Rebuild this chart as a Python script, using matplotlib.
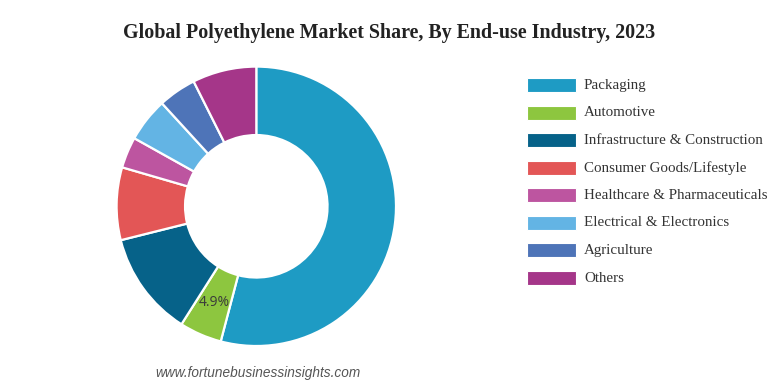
import matplotlib
matplotlib.use('Agg')
import matplotlib.pyplot as plt
from matplotlib.patches import Rectangle
import numpy as np

title = 'Global Polyethylene Market Share, By End-use Industry, 2023'
industries = ['Packaging', 'Automotive', 'Infrastructure & Construction',
              'Consumer Goods/Lifestyle', 'Healthcare & Pharmaceuticals',
              'Electrical & Electronics', 'Agriculture', 'Others']
shares = [54.1, 4.9, 12.1, 8.4, 3.6, 5.1, 4.4, 7.4]
shown_labels = ['', '4.9%', '', '', '', '', '', '']
colors = ['#1e9bc4', '#8dc63f', '#066289', '#e35656',
          '#bd55a0', '#63b4e4', '#4e74b8', '#a53689']

W, H = 778, 387
fig = plt.figure(figsize=(W / 100, H / 100), dpi=100)

# donut axes placed so centre ~ (256, 206) px, radius ~140 px
cx, cy, r = 256.3, 206.3, 139.7
ax = fig.add_axes([(cx - r) / W, (H - cy - r) / H, 2 * r / W, 2 * r / H])
wedges, _ = ax.pie(shares, colors=colors, startangle=90, counterclock=False,
                   radius=1.0,
                   wedgeprops=dict(width=0.49, edgecolor='white', linewidth=1.6))
ax.set_xlim(-1, 1)
ax.set_ylim(-1, 1)
ax.axis('off')

# percentage label in the middle of the ring
for w, lab in zip(wedges, shown_labels):
    if not lab:
        continue
    ang = np.deg2rad((w.theta1 + w.theta2) / 2)
    rr = 1.0 - 0.49 / 2
    ax.text(rr * np.cos(ang), rr * np.sin(ang), lab, ha='center', va='center',
            fontsize=10, color='#3a3a3a', family='Open Sans')

fig.text(389 / W, 1 - 33 / H, title, ha='center', va='center',
         fontsize=14.4, fontweight='bold', family='Liberation Serif', color='#222222')

# legend
y0, step = 85.5, 27.5
for i, (name, col) in enumerate(zip(industries, colors)):
    yc = y0 + i * step
    fig.add_artist(Rectangle((527 / W, 1 - (yc + 6.5) / H), 49 / W, 14 / H,
                             transform=fig.transFigure, facecolor=col,
                             edgecolor='white', linewidth=0.8))
    fig.text(584 / W, 1 - yc / H, name, ha='left', va='center',
             fontsize=10.85, family='Liberation Serif', color='#333333')

fig.text(257.5 / W, 1 - 373 / H, 'www.fortunebusinessinsights.com', ha='center',
         va='center', fontsize=9.8, style='italic', family='Liberation Sans',
         color='#555555')

fig.savefig('out.png', dpi=100)
